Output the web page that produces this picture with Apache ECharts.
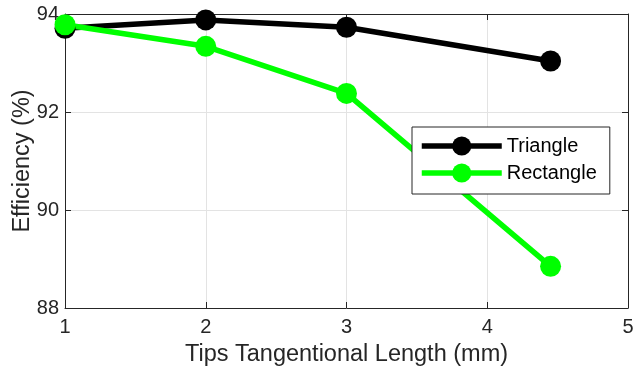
<!DOCTYPE html>
<html><head><meta charset="utf-8">
<script src="https://cdn.jsdelivr.net/npm/echarts@6/dist/echarts.min.js"></script>
<style>html,body{margin:0;padding:0;background:#fff}#c{width:634px;height:372px}</style>
</head><body><div id="c"></div>
<script>
const xTriangle = [1, 2, 3, 4.45];
const yTriangle = [93.71, 93.88, 93.73, 93.04];
const xRectangle = [1, 2, 3, 4.45];
const yRectangle = [93.78, 93.34, 92.38, 88.85];
const seriesNames = ['Triangle', 'Rectangle'];
const xTicks = [1, 2, 3, 4, 5];
const yTicks = [88, 90, 92, 94];

const font = '"Liberation Sans", Arial, sans-serif';
const ink = '#262626';
const chart = echarts.init(document.getElementById('c'));
const pairs = (xs, ys) => xs.map((x, i) => [x, ys[i]]);
chart.setOption({
  animation: false,
  grid: {left: 65, right: 6, top: 14, bottom: 64, containLabel: false, outerBoundsMode: 'none'},
  legend: {
    data: seriesNames,
    orient: 'vertical',
    left: 412, top: 127,
    itemWidth: 80, itemHeight: 24, itemGap: 7,
    padding: [9, 13, 11, 7],
    borderColor: ink, borderWidth: 1,
    backgroundColor: '#fff',
    lineStyle: {width: 5.5},
    textStyle: {fontFamily: font, fontSize: 20, color: '#000'}
  },
  xAxis: [{
    type: 'value', min: 1, max: 5, interval: 1,
    name: 'Tips Tangentional Length (mm)', nameLocation: 'middle', nameGap: 35,
    nameMoveOverlap: false,
    nameTextStyle: {fontFamily: font, fontSize: 23.5, color: ink},
    axisLine: {show: true, lineStyle: {color: ink, width: 1}},
    axisTick: {show: true, inside: true, length: 6, lineStyle: {color: ink}},
    axisLabel: {fontFamily: font, fontSize: 20, color: ink, margin: 9},
    splitLine: {show: true, lineStyle: {color: '#e3e3e3', width: 1}}
  }, {
    type: 'value', min: 1, max: 5, interval: 1, position: 'top',
    axisLine: {show: true, onZero: false, lineStyle: {color: ink, width: 1}},
    axisTick: {show: true, inside: true, length: 6, lineStyle: {color: ink}},
    axisLabel: {show: false}, splitLine: {show: false}
  }],
  yAxis: [{
    type: 'value', min: 88, max: 94, interval: 2,
    name: 'Efficiency (%)', nameLocation: 'middle', nameGap: 30,
    nameMoveOverlap: false,
    nameTextStyle: {fontFamily: font, fontSize: 23.5, color: ink},
    axisLine: {show: true, lineStyle: {color: ink, width: 1}},
    axisTick: {show: true, inside: true, length: 6, lineStyle: {color: ink}},
    axisLabel: {fontFamily: font, fontSize: 20, color: ink, margin: 6},
    splitLine: {show: true, lineStyle: {color: '#e3e3e3', width: 1}}
  }, {
    type: 'value', min: 88, max: 94, interval: 2, position: 'right',
    axisLine: {show: true, onZero: false, lineStyle: {color: ink, width: 1}},
    axisTick: {show: true, inside: true, length: 6, lineStyle: {color: ink}},
    axisLabel: {show: false}, splitLine: {show: false}
  }],
  series: [{
    name: seriesNames[0], type: 'line', data: pairs(xTriangle, yTriangle),
    symbol: 'circle', symbolSize: 21,
    lineStyle: {color: '#000', width: 5.5}, itemStyle: {color: '#000'}, color: '#000'
  }, {
    name: seriesNames[1], type: 'line', data: pairs(xRectangle, yRectangle),
    symbol: 'circle', symbolSize: 21,
    lineStyle: {color: '#00ff00', width: 5.5}, itemStyle: {color: '#00ff00'}, color: '#00ff00'
  }]
});
</script></body></html>
